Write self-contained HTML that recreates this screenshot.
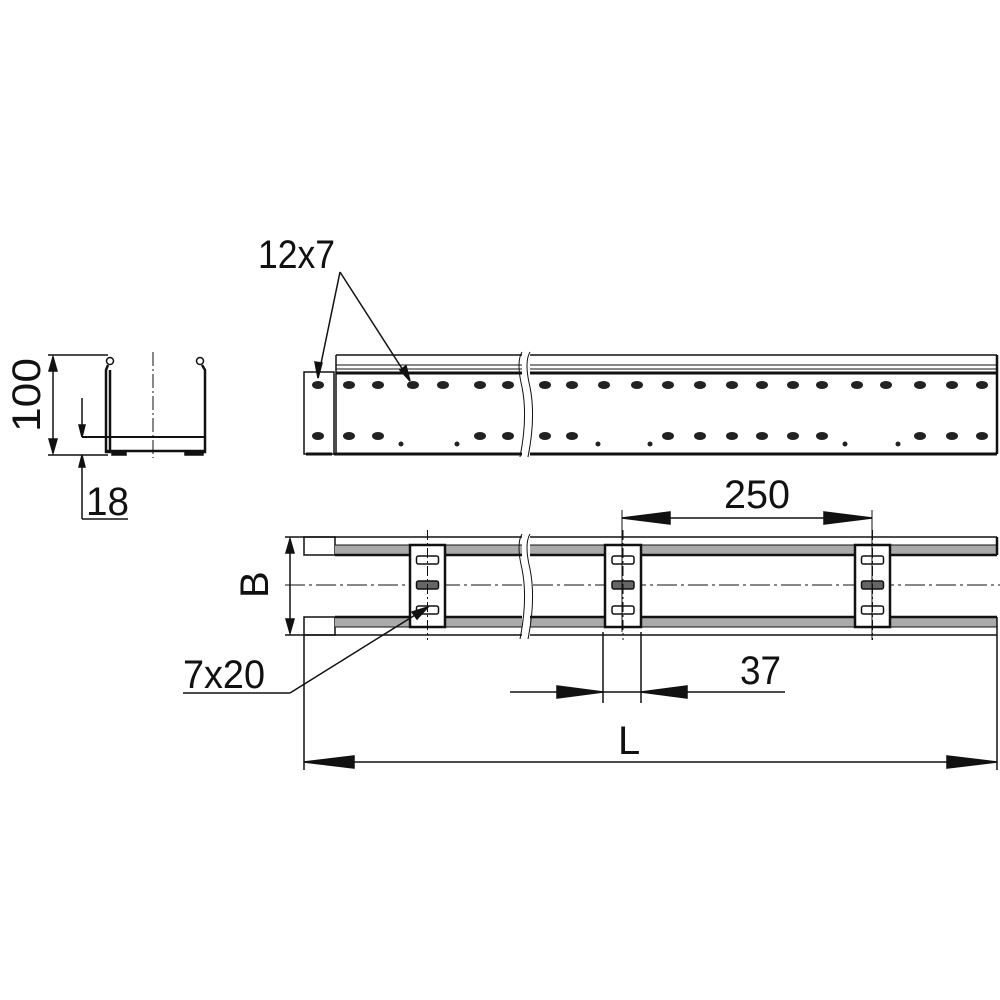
<!DOCTYPE html>
<html><head><meta charset="utf-8"><style>
html,body{margin:0;padding:0;background:#fff;}
svg{display:block;}
text{font-family:"Liberation Sans",sans-serif;fill:#111;}
</style></head><body>
<svg id="s" width="1000" height="1000" viewBox="0 0 1000 1000" xmlns="http://www.w3.org/2000/svg">
<g stroke="#111" fill="none" stroke-width="1.5">
<!-- cross section -->
<line x1="48" y1="355" x2="108" y2="355"/>
<line x1="48" y1="455" x2="108" y2="455" />
<line x1="53" y1="357" x2="53" y2="453"/>
<path d="M53 357 l-4 14 h8z M53 453 l-4 -14 h8z" fill="#111"/>
<line x1="153" y1="352" x2="153" y2="458" stroke-dasharray="14 3 2 3" stroke-width="1"/>
<circle cx="110" cy="361" r="3.5"/><circle cx="200" cy="361" r="3.5"/>
<path d="M108 365 L106 370 L106 452 L110 452 L110 370" stroke-width="2.5"/>
<path d="M202 365 L205 370 L205 452 L202 452" stroke-width="2.5"/>
<line x1="82" y1="437" x2="205" y2="437" stroke-width="2"/>
<line x1="106" y1="451" x2="205" y2="451" stroke-width="2.5"/>
<rect x="112" y="451" width="14" height="4" fill="#111"/><rect x="185" y="451" width="18" height="4" fill="#111"/>
<line x1="82" y1="398" x2="82" y2="437"/>
<path d="M82 437 l-3 -12 h6z" fill="#111"/>
<line x1="82" y1="455" x2="82" y2="519"/>
<path d="M82 455 l-3 12 h6z" fill="#111"/>
<line x1="82" y1="519" x2="128" y2="519"/>

<!-- side view -->
<rect x="304" y="372" width="30" height="82"/>
<line x1="306" y1="454" x2="332" y2="454" stroke-width="3"/>
<line x1="336" y1="355" x2="997" y2="355"/>
<line x1="336" y1="365" x2="997" y2="365" stroke-width="1"/>
<line x1="336" y1="369" x2="997" y2="369" stroke-width="1"/>
<line x1="336" y1="373" x2="997" y2="373" stroke-width="3"/>
<line x1="336" y1="355" x2="336" y2="454"/>
<line x1="997" y1="355" x2="997" y2="454" stroke-width="2.5"/>
<line x1="334" y1="454" x2="997" y2="454" stroke-width="3"/>
<rect x="522" y="350" width="8" height="110" fill="#fff" stroke="none"/>
<path d="M522 352 q-6 10 0 35 q6 30 -2 70" stroke-width="1"/>
<path d="M530 352 q-6 10 0 35 q6 30 -2 70" stroke-width="1"/>
<g id="holes" stroke="none" fill="#222"></g>
<!-- 12x7 leader -->
<line x1="340" y1="272" x2="318" y2="378"/>
<line x1="340" y1="272" x2="410" y2="381"/>
<path d="M318 378 l-3 -16 l7 1z M410 381 l-10 -11 l6 -4z" fill="#111"/>

<!-- top view -->
<line x1="285" y1="537" x2="997" y2="537"/>
<line x1="285" y1="635" x2="997" y2="635"/>
<rect x="304" y="537" width="31" height="18"/>
<rect x="304" y="617" width="31" height="18"/>
<rect x="335" y="545" width="662" height="10" fill="#aaa" stroke="none"/>
<rect x="335" y="618" width="662" height="9" fill="#aaa" stroke="none"/>
<line x1="335" y1="545" x2="997" y2="545" stroke-width="1"/>
<line x1="335" y1="555" x2="997" y2="555" stroke-width="2.5"/>
<line x1="335" y1="617" x2="997" y2="617" stroke-width="2.5"/>
<line x1="335" y1="627" x2="997" y2="627" stroke-width="1"/>
<line x1="997" y1="537" x2="997" y2="555" stroke-width="2.5"/>
<line x1="997" y1="617" x2="997" y2="770" stroke-width="1.5"/>
<line x1="285" y1="585" x2="1000" y2="585" stroke-width="1" stroke-dasharray="20 4 3 4"/>
<g id="bars"></g>
<rect x="522" y="532" width="8" height="108" fill="#fff" stroke="none"/>
<path d="M522 534 q-6 10 0 35 q6 30 -2 70" stroke-width="1"/>
<path d="M530 534 q-6 10 0 35 q6 30 -2 70" stroke-width="1"/>
<!-- B dim -->
<line x1="290" y1="539" x2="290" y2="633"/>
<path d="M290 539 l-4 14 h8z M290 633 l-4 -14 h8z" fill="#111"/>
<!-- 250 dim -->
<line x1="622" y1="510" x2="622" y2="632" stroke-width="1"/>
<line x1="872" y1="510" x2="872" y2="640" stroke-width="1"/>
<line x1="622" y1="518" x2="872" y2="518"/>
<path d="M622 518 l48 -6 v12z M872 518 l-48 -6 v12z" fill="#111"/>
<!-- 37 dim -->
<line x1="603" y1="632" x2="603" y2="703"/>
<line x1="641" y1="632" x2="641" y2="703"/>
<line x1="510" y1="692" x2="785" y2="692"/>
<path d="M603 692 l-46 -6 v12z M641 692 l46 -6 v12z" fill="#111"/>
<!-- 7x20 -->
<line x1="183" y1="693" x2="290" y2="693"/>
<line x1="290" y1="693" x2="428" y2="607"/>
<path d="M428 607 l-16 5 l5 7z" fill="#111"/>
<!-- L -->
<line x1="304" y1="635" x2="304" y2="770"/>
<line x1="304" y1="762" x2="997" y2="762"/>
<path d="M304 762 l50 -6 v12z M997 762 l-50 -6 v12z" fill="#111"/>
</g>
<text x="258" y="268" font-size="40" textLength="77" lengthAdjust="spacingAndGlyphs">12x7</text>
<text transform="translate(40 432) rotate(-90)" font-size="40" textLength="74" lengthAdjust="spacingAndGlyphs">100</text>
<text x="86" y="515" font-size="40" textLength="43" lengthAdjust="spacingAndGlyphs">18</text>
<text transform="translate(268 598) rotate(-90)" font-size="40">B</text>
<text x="724" y="508" font-size="40" textLength="66" lengthAdjust="spacingAndGlyphs">250</text>
<text x="740" y="684" font-size="40" textLength="41" lengthAdjust="spacingAndGlyphs">37</text>
<text x="183" y="688" font-size="40" textLength="82" lengthAdjust="spacingAndGlyphs">7x20</text>
<text x="618" y="754" font-size="40">L</text>
<script>
(function(){
var ns="http://www.w3.org/2000/svg";
var h=document.getElementById("holes");
function el(p,t,a){var e=document.createElementNS(ns,t);for(var k in a)e.setAttribute(k,a[k]);p.appendChild(e);}
var topRow=[318,349,378,413,443,480,508,545,572,604,637,668,700,732,762,793,822,857,886,920,952,982];
topRow.forEach(function(x){el(h,"ellipse",{cx:x,cy:385,rx:6,ry:4});});
[318,349,378,480,508,545,572,668,700,732,762,793,822,920,952,982].forEach(function(x){el(h,"ellipse",{cx:x,cy:436,rx:6,ry:4});});
[401,457,598,650,845,898].forEach(function(x){el(h,"circle",{cx:x,cy:444,r:2.5});});
var b=document.getElementById("bars");
[[410,445],[605,641],[855,890]].forEach(function(p){
 var x1=p[0],x2=p[1],c=(x1+x2)/2;
 el(b,"rect",{x:x1,y:545,width:x2-x1,height:82,fill:"#fff",stroke:"#111","stroke-width":2.5});
 [560,585,610].forEach(function(y,i){el(b,"rect",{x:c-11,y:y-4,width:22,height:8,rx:2,fill:i==1?"#666":"#fff",stroke:"#111","stroke-width":1.5});});
 el(b,"line",{x1:c,y1:530,x2:c,y2:640,stroke:"#111","stroke-width":1,"stroke-dasharray":"10 3 2 3"});
});
})();
</script>
</svg>
</body></html>
